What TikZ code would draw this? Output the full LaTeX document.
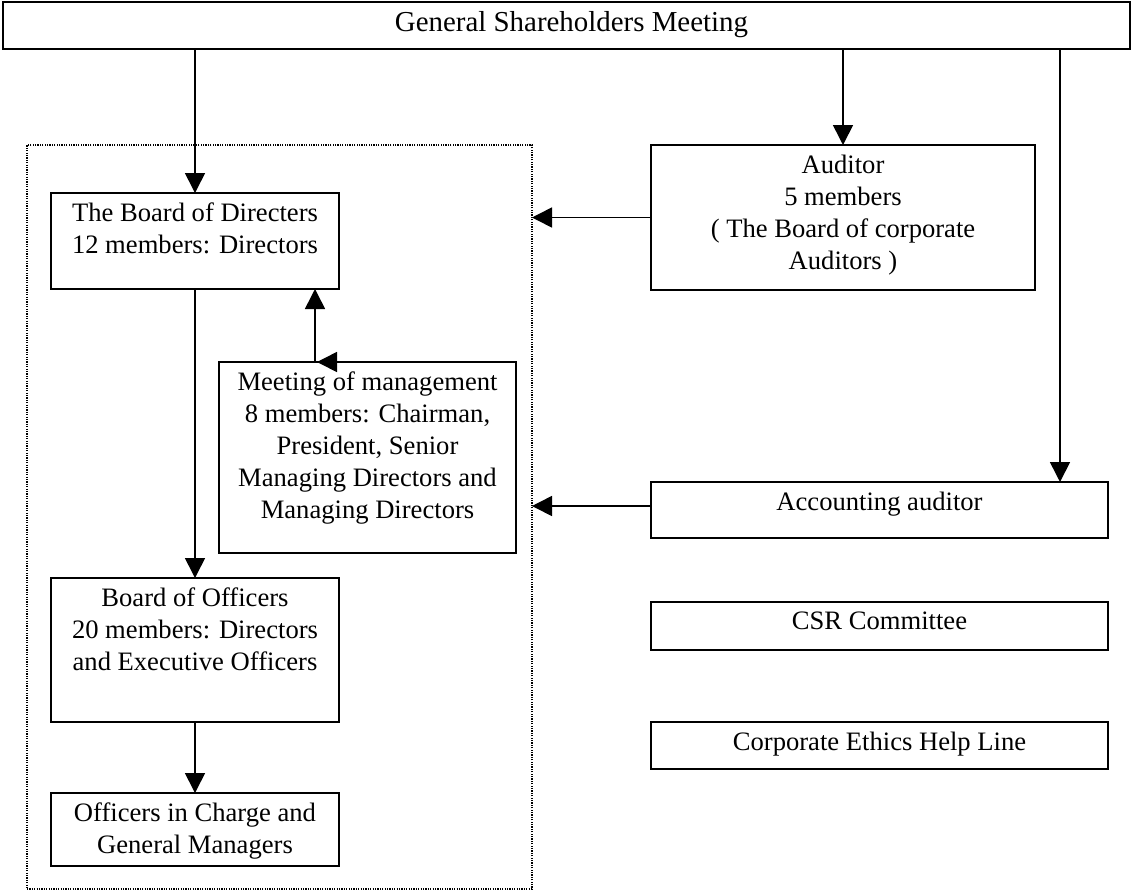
\documentclass[tikz,border=0pt]{standalone}
\usepackage{fontspec}
\setmainfont{Liberation Serif}
\usetikzlibrary{arrows.meta}
\begin{document}
\begin{tikzpicture}[x=1pt,y=-1pt,
  box/.style={draw, line width=1.5pt, outer sep=0pt, inner sep=0pt},
  lab/.style={anchor=north, align=center, inner sep=10pt, outer sep=0pt, font=\fontsize{26.6}{32}\selectfont},
  arr/.style={line width=1.6pt, -{Triangle[length=20pt,width=20pt]}},
  grpbox/.style={draw, line width=1.2pt, dash pattern=on 1.2pt off 1.2pt, outer sep=0pt, inner sep=0pt}]
\useasboundingbox (0,0) rectangle (1131,892);

\node[box, minimum width=1127, minimum height=47, label={[lab, inner sep=9pt, xshift=5pt, font=\fontsize{28.9}{34}\selectfont]north:{General Shareholders Meeting}}] (gsm) at (566.5,25.5) {};
\node[grpbox, minimum width=505, minimum height=744] (grp) at (279.5,517) {};
\node[box, minimum width=288, minimum height=96, label={[lab]north:{The Board of Directers\\12 members: Directors}}] (bod) at (195,241) {};
\node[box, minimum width=384, minimum height=145, label={[lab]north:{Auditor\\5 members\\( The Board of corporate\\Auditors )}}] (aud) at (843,217.5) {};
\node[box, minimum width=297, minimum height=191, label={[lab]north:{Meeting of management\\8 members: Chairman,\\President, Senior\\Managing Directors and\\Managing Directors}}] (mtg) at (367.5,457.5) {};
\node[box, minimum width=457, minimum height=56, label={[lab]north:{Accounting auditor}}] (acc) at (879.5,510) {};
\node[box, minimum width=288, minimum height=144, label={[lab]north:{Board of Officers\\20 members: Directors\\and Executive Officers}}] (boo) at (195,650) {};
\node[box, minimum width=457, minimum height=48, label={[lab]north:{CSR Committee}}] (csr) at (879.5,626) {};
\node[box, minimum width=457, minimum height=47, label={[lab]north:{Corporate Ethics Help Line}}] (eth) at (879.5,745.5) {};
\node[box, minimum width=288, minimum height=73, label={[lab]north:{Officers in Charge and\\General Managers}}] (off) at (195,829.5) {};

\draw[arr] (gsm.south -| bod.north) -- (bod.north);
\draw[arr] (gsm.south -| aud.north) -- (aud.north);
\coordinate (accin) at ([xshift=-48pt]acc.north east);
\draw[arr] (gsm.south -| accin) -- (accin);
\draw[arr] (aud.west) -- (aud.west -| grp.east);
\coordinate (accout) at ([yshift=4pt]acc.west);
\draw[arr] (accout) -- (accout -| grp.east);
\draw[arr] (bod.south) -- (boo.north);
\draw[arr] (boo.south) -- (off.north);
\coordinate (mup) at ([xshift=-52.5pt]mtg.north);
\draw[arr] (mup) -- (mup |- bod.south);
\coordinate (stray) at ([xshift=24pt]mup);
\coordinate (straytip) at ([xshift=2pt]mup);
\draw[arr] (stray) -- (straytip);
\end{tikzpicture}
\end{document}
